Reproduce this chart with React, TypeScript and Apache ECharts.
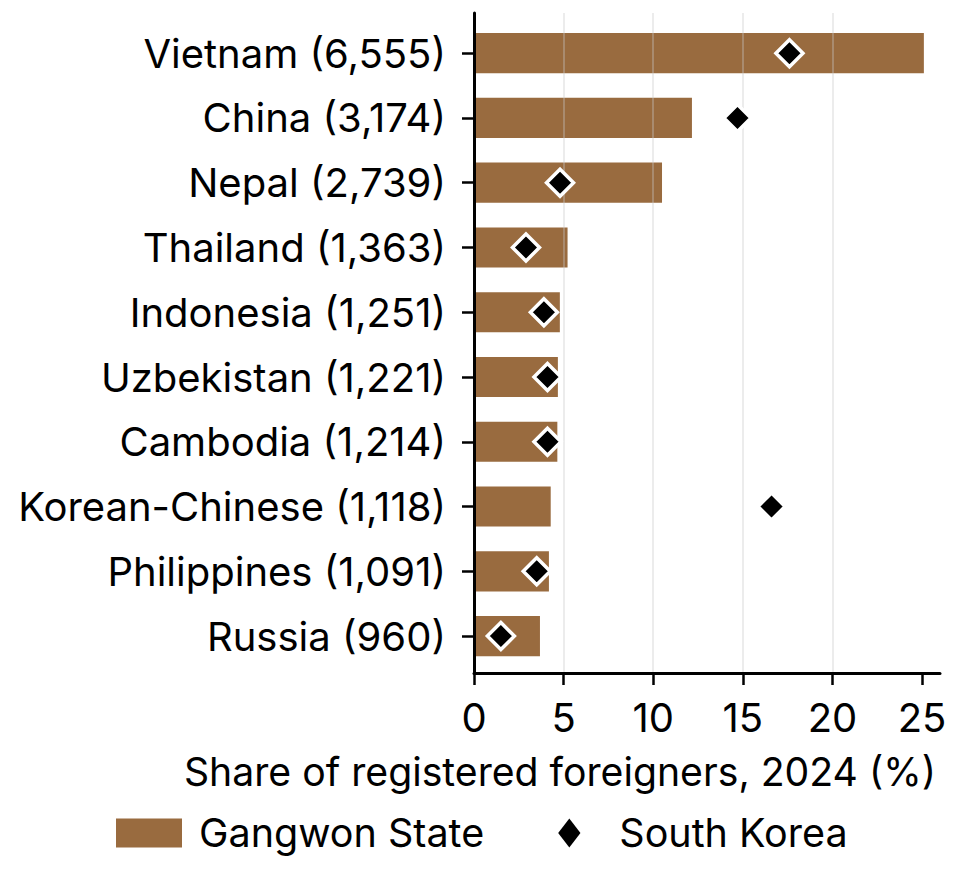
import React, { useEffect, useRef } from 'react'
import * as echarts from 'echarts'

const countries = [
  'Vietnam (6,555)',
  'China (3,174)',
  'Nepal (2,739)',
  'Thailand (1,363)',
  'Indonesia (1,251)',
  'Uzbekistan (1,221)',
  'Cambodia (1,214)',
  'Korean-Chinese (1,118)',
  'Philippines (1,091)',
  'Russia (960)'
]
const gangwon = [25.1, 12.16, 10.49, 5.22, 4.79, 4.68, 4.65, 4.28, 4.18, 3.68]
const southKorea = [17.6, 14.7, 4.8, 2.9, 3.9, 4.1, 4.1, 16.6, 3.5, 1.5]
const xTicks = [0, 5, 10, 15, 20, 25]

const FONT = 'Inter'
const BROWN = '#996b3f'

const App: React.FC = () => {
  const chartRef = useRef<HTMLDivElement>(null)

  useEffect(() => {
    if (!chartRef.current) return
    const chart = echarts.init(chartRef.current, null, { renderer: 'svg' })

    const option: any = {
      animation: false,
      backgroundColor: '#fff',
      textStyle: { fontFamily: FONT },
      grid: { left: 474, right: 22, top: 13, bottom: 199 },
      xAxis: {
        type: 'value',
        min: 0,
        max: 26,
        interval: 5,
        z: 3,
        axisLine: { show: true, onZero: false, lineStyle: { color: '#000', width: 3 } },
        axisTick: { show: true, length: 12, customValues: xTicks, lineStyle: { color: '#000', width: 2.5 } },
        axisLabel: { customValues: xTicks, margin: 24, fontSize: 40, color: '#000', fontFamily: FONT },
        splitLine: {
          show: true,
          showMinLine: false,
          showMaxLine: false,
          lineStyle: { color: 'rgba(200,200,200,0.35)', width: 2 }
        }
      },
      yAxis: {
        type: 'value',
        inverse: true,
        min: -0.62,
        max: 9.57,
        z: 4,
        axisLine: { show: true, onZero: false, lineStyle: { color: '#000', width: 3 } },
        axisTick: { show: true, length: 12, customValues: countries.map((_, i) => i), lineStyle: { color: '#000', width: 2.5 } },
        axisLabel: {
          customValues: countries.map((_, i) => i),
          formatter: (v: number) => countries[Math.round(v)] ?? '',
          margin: 28,
          fontSize: 40,
          color: '#000',
          fontFamily: FONT
        },
        splitLine: { show: false }
      },
      legend: {
        left: 111,
        top: 808,
        itemWidth: 66,
        itemHeight: 29,
        itemGap: 74,
        symbolKeepAspect: true,
        textStyle: { fontSize: 39.5, color: '#000', fontFamily: FONT, padding: [0, 0, 0, 12] },
        data: [
          { name: 'Gangwon State', icon: 'rect' },
          {
            name: 'South Korea',
            icon: 'path://M0,-1.3 L1,0 L0,1.3 L-1,0 Z',
            itemStyle: { color: '#000', borderWidth: 0 }
          }
        ]
      },
      graphic: [
        {
          type: 'text',
          right: 26,
          top: 752,
          style: {
            text: 'Share of registered foreigners, 2024 (%)',
            fontSize: 39.2,
            fontFamily: FONT,
            fill: '#000'
          }
        }
      ],
      series: [
        {
          name: 'Gangwon State',
          type: 'custom',
          z: 2,
          itemStyle: { color: BROWN },
          encode: { x: 0, y: 1 },
          data: gangwon.map((v, i) => [v, i]),
          renderItem: (params: any, api: any) => {
            const idx = api.value(1)
            const start = api.coord([0, idx])
            const end = api.coord([api.value(0), idx])
            const h = Math.abs(api.size([0, 1])[1]) * 0.62
            return {
              type: 'rect',
              shape: { x: start[0], y: start[1] - h / 2, width: end[0] - start[0], height: h },
              style: api.style({ fill: BROWN })
            }
          }
        },
        {
          name: 'South Korea',
          type: 'scatter',
          z: 5,
          symbol: 'diamond',
          symbolSize: 27,
          itemStyle: { color: '#000', borderColor: '#fff', borderWidth: 3.5, opacity: 1 },
          data: southKorea.map((v, i) => [v, i])
        }
      ]
    }

    chart.setOption(option)
    return () => chart.dispose()
  }, [])

  return (
    <div
      ref={chartRef}
      style={{ position: 'fixed', left: 0, top: 0, width: 962, height: 872 }}
    />
  )
}

export default App
